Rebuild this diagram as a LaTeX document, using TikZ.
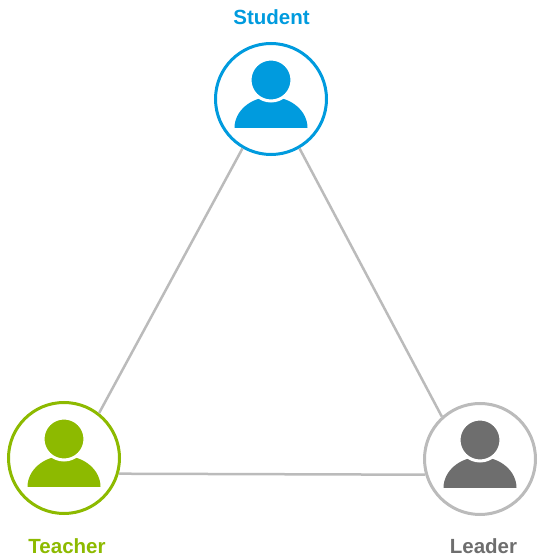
\documentclass[tikz,border=0pt]{standalone}
\usepackage{fontspec}
\setmainfont{Liberation Sans}

\definecolor{bleu}{HTML}{009BDE}
\definecolor{vert}{HTML}{8DBA00}
\definecolor{grisFonce}{HTML}{6E6E6E}
\definecolor{grisClair}{HTML}{BBBBBB}

\tikzset{membre/.style = {circle, draw = #1, line width = 3pt, fill = white,
                          minimum size = 111pt, inner sep = 0pt},
         nom/.style = {font = \bfseries\fontsize{20.5}{21}\selectfont, text = #1, anchor = base},
         lien/.style = {draw = grisClair, line width = 2.5pt},
         pics/personne/.style = {code = {
            \fill[#1] (-36.5pt,-29pt) arc[start angle = 180, end angle = 0,
                                          x radius = 36.5pt, y radius = 31pt] -- cycle;
            \filldraw[fill = #1, draw = white, line width = 3pt] (0,19pt) circle[radius = 21pt];
         }}
        }

\begin{document}
\begin{tikzpicture}
  \useasboundingbox (0,0) rectangle (539pt,558pt);
  \node[membre = bleu] (student) at (271pt,459pt) {};
  \node[membre = vert] (teacher) at (64pt,100pt) {};
  \node[membre = grisClair] (leader) at (480pt,99pt) {};
  \pic at (student) {personne = bleu};
  \pic at (teacher) {personne = vert};
  \pic at (leader) {personne = grisFonce};
  \node[nom = bleu] (nomStudent) at (271.5pt,533pt) {Student};
  \node[nom = vert] (nomTeacher) at (67pt,5pt) {Teacher};
  \node[nom = grisFonce] (nomLeader) at (483.5pt,5pt) {Leader};
  % les liens
  \draw[lien] (student.240) -- (teacher.52);
  \draw[lien] (student.300) -- (leader.132);
  \draw[lien] (teacher.-16) -- (leader.196);
\end{tikzpicture}
\end{document}
